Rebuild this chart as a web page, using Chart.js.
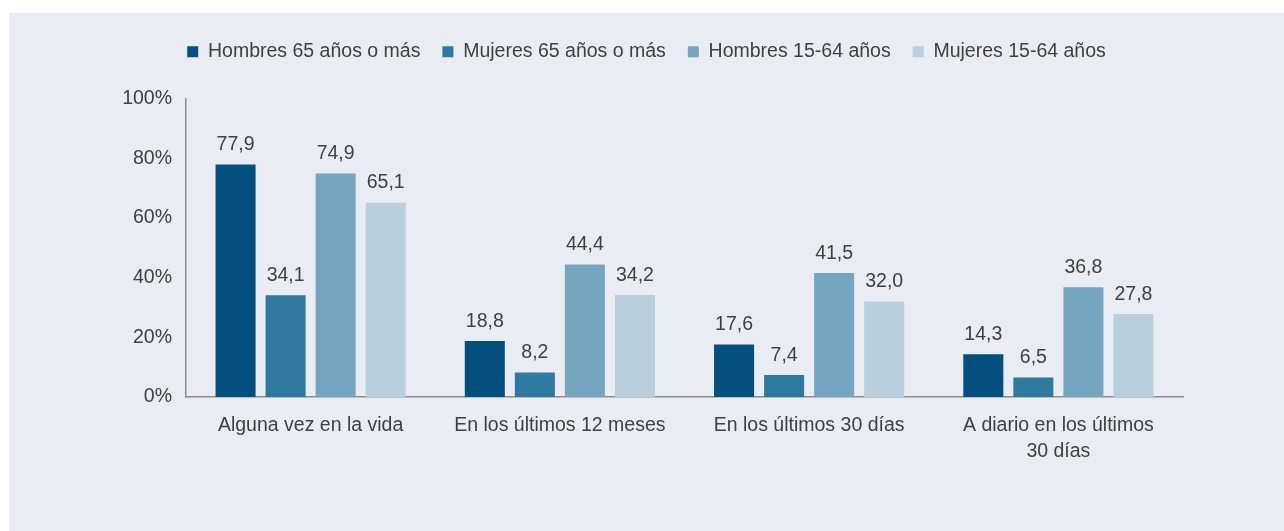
<!DOCTYPE html>
<html>
<head>
<meta charset="utf-8">
<script src="https://cdn.jsdelivr.net/npm/chart.js@4"></script>
<style>
  html, body { margin: 0; padding: 0; background: #ffffff; }
  #panel { position: absolute; left: 9px; top: 13px; width: 1275px; height: 518px; background: #e9ecf3; }
</style>
</head>
<body>
<div id="panel"><canvas id="drugChart"></canvas></div>
<script>
// categories and series values
const categories = ['Alguna vez en la vida', 'En los últimos 12 meses', 'En los últimos 30 días', ['A diario en los últimos', '30 días']];
const seriesNames = ['Hombres 65 años o más', 'Mujeres 65 años o más', 'Hombres 15-64 años', 'Mujeres 15-64 años'];
const hombres65 = [77.9, 18.8, 17.6, 14.3];
const mujeres65 = [34.1, 8.2, 7.4, 6.5];
const hombres1564 = [74.9, 44.4, 41.5, 36.8];
const mujeres1564 = [65.1, 34.2, 32.0, 27.8];
const yTicks = [0, 20, 40, 60, 80, 100];

const colors = ['#03507e', '#2f78a0', '#75a5bf', '#b8cfde'];
const textColor = '#404040';
const fontFamily = "'Liberation Sans', Arial, Helvetica, sans-serif";
const fontSize = 19.5;

Chart.defaults.font.family = fontFamily;
Chart.defaults.color = textColor;

// draws the value above each bar, with a decimal comma
const valueLabels = {
    id: 'valueLabels',
    afterDatasetsDraw(chart) {
        const ctx = chart.ctx;
        ctx.save();
        ctx.font = fontSize + 'px ' + fontFamily;
        ctx.fillStyle = textColor;
        ctx.textAlign = 'center';
        ctx.textBaseline = 'bottom';
        chart.data.datasets.forEach((ds, i) => {
            chart.getDatasetMeta(i).data.forEach((bar, j) => {
                ctx.fillText(ds.data[j].toFixed(1).replace('.', ','), bar.x, bar.y - 10);
            });
        });
        ctx.restore();
    }
};

// extra room under the legend
const legendGap = {
    id: 'legendGap',
    beforeInit(chart) {
        const origFit = chart.legend.fit;
        chart.legend.fit = function () {
            origFit.bind(chart.legend)();
            this.height += 27;
        };
    }
};

const allSeries = [hombres65, mujeres65, hombres1564, mujeres1564];

new Chart(document.getElementById('drugChart'), {
    type: 'bar',
    data: {
        labels: categories,
        datasets: allSeries.map((vals, i) => ({
            label: seriesNames[i],
            data: vals,
            backgroundColor: colors[i],
            borderWidth: 0,
            barPercentage: 0.8,
            categoryPercentage: 0.803
        }))
    },
    options: {
        responsive: true,
        maintainAspectRatio: false,
        animation: false,
        layout: { padding: { top: 7, right: 0, bottom: 0, left: 0 } },
        plugins: {
            legend: {
                position: 'top',
                labels: {
                    boxWidth: 11,
                    boxHeight: 11,
                    padding: 22,
                    color: textColor,
                    font: { size: fontSize }
                }
            },
            tooltip: { enabled: false }
        },
        scales: {
            y: {
                min: 0,
                max: 100,
                afterBuildTicks(scale) { scale.ticks = yTicks.map(v => ({ value: v })); },
                afterFit(scale) { scale.width = 177; },
                grid: { display: false, drawTicks: false },
                border: { display: true, color: '#8c8c8c', width: 1.5 },
                ticks: {
                    padding: 14,
                    color: textColor,
                    font: { size: fontSize },
                    callback: v => v + '%'
                }
            },
            // empty right axis: keeps the plot narrow while the legend stays centred on the panel
            yRight: {
                type: 'linear',
                position: 'right',
                min: 0,
                max: 100,
                afterFit(scale) { scale.width = 101; },
                grid: { display: false, drawTicks: false },
                border: { display: false },
                ticks: { display: false }
            },
            x: {
                afterFit(scale) { scale.height = 134; },
                grid: { display: false, drawTicks: false },
                border: { display: true, color: '#8c8c8c', width: 1.5 },
                ticks: {
                    padding: 15,
                    color: textColor,
                    font: { size: fontSize, lineHeight: 1.35 },
                    maxRotation: 0
                }
            }
        }
    },
    plugins: [valueLabels, legendGap]
});
</script>
</body>
</html>
